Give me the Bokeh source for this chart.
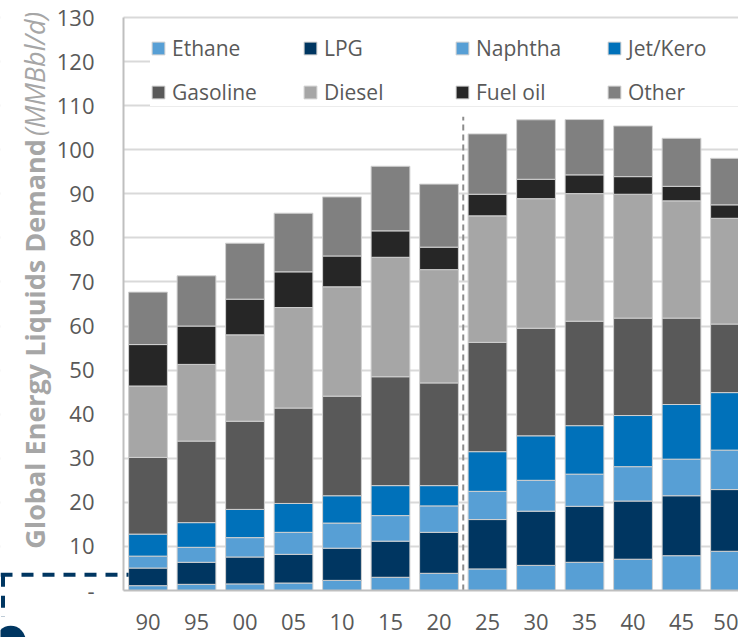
import math
from bokeh.plotting import figure
from bokeh.models import (ColumnDataSource, Legend, LegendItem, Label,
                          FixedTicker, Range1d)
from bokeh.embed import file_html
from bokeh.resources import INLINE

# ---- data (MMBbl/d) ----
years = ["90", "95", "00", "05", "10", "15", "20", "25", "30", "35", "40", "45", "50"]
ethane   = [1.1, 1.4, 1.5, 1.7, 2.3, 3.0, 3.9, 4.9, 5.7, 6.4, 7.1, 7.9, 8.9]
lpg      = [4.0, 5.0, 6.1, 6.5, 7.3, 8.2, 9.3, 11.2, 12.3, 12.7, 13.2, 13.6, 14.0]
naphtha  = [2.7, 3.4, 4.4, 5.0, 5.7, 5.8, 6.0, 6.4, 7.0, 7.3, 7.8, 8.3, 8.95]
jet_kero = [5.0, 5.6, 6.4, 6.55, 6.2, 6.8, 4.6, 9.0, 10.1, 11.0, 11.6, 12.4, 13.05]
gasoline = [17.4, 18.5, 20.0, 21.65, 22.6, 24.7, 23.3, 24.8, 24.4, 23.7, 22.1, 19.6, 15.55]
diesel   = [16.2, 17.4, 19.6, 22.8, 24.8, 27.1, 25.7, 28.7, 29.4, 28.95, 28.1, 26.6, 24.0]
fuel_oil = [9.4, 8.7, 8.1, 8.1, 7.0, 6.0, 5.1, 4.9, 4.4, 4.25, 4.0, 3.3, 3.05]
other    = [11.9, 11.4, 12.7, 13.3, 13.4, 14.65, 14.3, 13.7, 13.5, 12.55, 11.5, 10.9, 10.55]

series_names = ["Ethane", "LPG", "Naphtha", "Jet/Kero", "Gasoline", "Diesel", "Fuel oil", "Other"]
series_vals = [ethane, lpg, naphtha, jet_kero, gasoline, diesel, fuel_oil, other]
colors = ["#579FD5", "#003661", "#579FD5", "#0071BA", "#595959", "#A6A6A6", "#262626", "#808080"]
y_ticks = list(range(0, 131, 10))
grid_ticks = list(range(10, 131, 10))
forecast_divider = 6.5   # between "20" (historical) and "25" (projection)
divider_top = 107.5

# ---- layout geometry (plot frame covers the whole canvas) ----
X0, X1 = -3.041, 12.175      # visible x extent (bar slots)
Y0, Y1 = -10.66, 133.86      # visible y extent
AX_X = -0.505                # where the value axis sits
FONT = "Open Sans"

x_idx = list(range(len(years)))
data = {"x": x_idx}
for n, v in zip(series_names, series_vals):
    data[n] = v
src = ColumnDataSource(data)

p = figure(width=738, height=637, output_backend="svg", toolbar_location=None,
           x_range=Range1d(X0, X1), y_range=Range1d(Y0, Y1),
           min_border=0, min_border_left=0, min_border_right=0,
           min_border_top=0, min_border_bottom=0)
p.outline_line_color = None
p.background_fill_color = "white"

# white mask left of the value axis so grid lines start at the axis
p.quad(left=[X0], right=[AX_X], bottom=[Y0], top=[Y1],
       fill_color="white", line_color=None)

renderers = p.vbar_stack(series_names, x="x", width=0.8, source=src,
                         fill_color=colors, line_color="#D0D0D0", line_width=1)

# divider between history and outlook
p.segment(x0=[forecast_divider], y0=[0], x1=[forecast_divider], y1=[divider_top],
          line_color="#8C8C8C", line_width=2, line_dash="6 4")

# dashed call-out line at the lower left
p.multi_line(xs=[[X0, -0.4], [-2.99, -2.99]], ys=[[3.6, 3.6], [3.6, -6.0]],
             line_color="#003661", line_width=4, line_dash="12 9")
p.scatter(x=[-2.83], y=[-11.4], size=30, marker="circle",
          fill_color="#003661", line_color=None)

# axes placed at fixed data locations
p.xaxis.fixed_location = 0
p.xaxis.bounds = (AX_X, X1)
p.xaxis.ticker = FixedTicker(ticks=x_idx)
p.xaxis.major_label_overrides = {i: y for i, y in enumerate(years)}
p.yaxis.fixed_location = AX_X
p.yaxis.bounds = (0, 130)
p.yaxis.ticker = FixedTicker(ticks=y_ticks)
p.yaxis.major_label_overrides = {0: "-"}
for ax in (p.xaxis[0], p.yaxis[0]):
    ax.axis_line_color = "#BFBFBF"
    ax.axis_line_width = 2
    ax.major_tick_line_color = None
    ax.minor_tick_line_color = None
    ax.major_label_text_font = FONT
    ax.major_label_text_font_size = "22px"
    ax.major_label_text_color = "#595959"
p.xaxis.major_label_standoff = 17
p.yaxis.major_label_standoff = 23

p.xgrid.grid_line_color = None
p.ygrid.ticker = FixedTicker(ticks=grid_ticks)
p.ygrid.grid_line_color = "#D9D9D9"
p.ygrid.grid_line_width = 2

# legend: 2 rows x 4 columns
items = [LegendItem(label=n, renderers=[r]) for n, r in zip(series_names, renderers)]
legend = Legend(items=items, orientation="horizontal", ncols=4,
                location=(150, 531), padding=11, margin=0, spacing=16,
                glyph_width=16, glyph_height=16, label_standoff=6,
                label_width=114, label_text_font=FONT,
                label_text_font_size="21px", label_text_color="#595959",
                border_line_color=None, background_fill_color="white",
                background_fill_alpha=1.0)
p.add_layout(legend)

# y-axis title (bold part + italic unit), baseline-aligned
p.add_layout(Label(x=-2.35, y=9.5, text="Global Energy Liquids Demand",
                   angle=math.pi / 2, text_align="left", text_baseline="alphabetic",
                   text_font=FONT, text_font_size="27px", text_font_style="bold",
                   text_color="#A6A6A6"))
p.add_layout(Label(x=-2.35, y=131.3, text="(MMBbl/d)",
                   angle=math.pi / 2, text_align="right", text_baseline="alphabetic",
                   text_font=FONT, text_font_size="27px", text_font_style="italic",
                   text_color="#A6A6A6"))

open("out.html", "w").write(file_html(p, INLINE))
